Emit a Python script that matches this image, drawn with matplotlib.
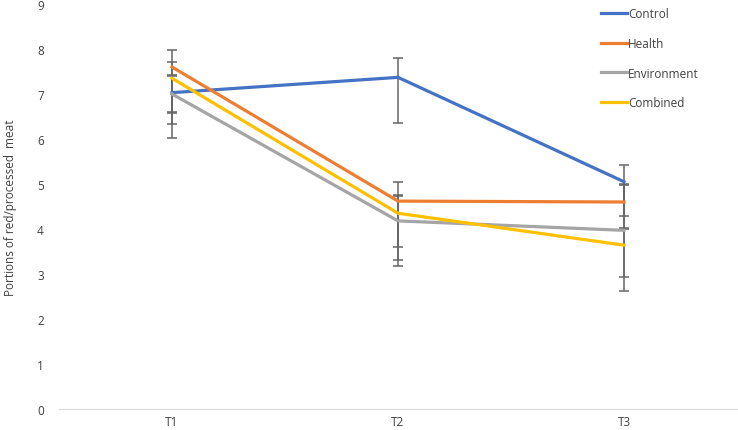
import numpy as np
import matplotlib.pyplot as plt

plt.rcParams['font.family'] = ['Open Sans', 'DejaVu Sans']

times = ['T1', 'T2', 'T3']
series = ['Control', 'Health', 'Environment', 'Combined']
colors = ['#4472C4', '#ED7D31', '#A5A5A5', '#FFC000']

control = [7.03, 7.37, 5.05]
health = [7.60, 4.62, 4.60]
environment = [7.00, 4.18, 3.97]
combined = [7.35, 4.35, 3.64]

# error bar ends (low, high)
control_lo = [6.02, 6.36, 4.29]
control_hi = [7.98, 7.80, 5.42]
health_lo = [6.33, 3.18, 4.02]
health_hi = [7.71, 5.04, 4.98]
environment_lo = [6.58, 3.60, 2.93]
environment_hi = [7.42, 4.73, 5.00]
combined_lo = [6.60, 3.31, 2.62]
combined_hi = [7.40, 4.75, 4.00]

values = [control, health, environment, combined]
lows = [control_lo, health_lo, environment_lo, combined_lo]
highs = [control_hi, health_hi, environment_hi, combined_hi]

fig = plt.figure(figsize=(7.38, 4.31), dpi=100)
ax = fig.add_axes([59 / 738, 1 - 410 / 431, 678 / 738, 405 / 431])

x = np.arange(len(times))
for name, col, v, lo, hi in zip(series, colors, values, lows, highs):
    v = np.array(v)
    ax.plot(x, v, color=col, lw=2.3, label=name, zorder=3)
    yerr = [v - np.array(lo), np.array(hi) - v]
    ax.errorbar(x, v, yerr=yerr, fmt='none', ecolor='#666666', elinewidth=1.1,
                capsize=3.5, capthick=1.1, zorder=2)

ax.set_xlim(-0.5, 2.5)
ax.set_ylim(0, 9)
ax.set_yticks(range(0, 10))
ax.set_xticks(x)
ax.set_xticklabels(times)
ax.tick_params(length=0, labelsize=8.5, labelcolor='#404040')
ax.tick_params(axis='y', pad=11)
ax.tick_params(axis='x', pad=4)
for s in ['top', 'right', 'left']:
    ax.spines[s].set_visible(False)
ax.spines['bottom'].set_color('#D9D9D9')
ax.set_ylabel('Portions of red/processed  meat', fontsize=8.5, color='#404040')
ax.yaxis.set_label_coords(-0.062, 0.5)

leg = fig.legend(loc='upper left', bbox_to_anchor=(0.80, 1.005), frameon=False,
                 fontsize=8.5, handlelength=2.2, handletextpad=0.1,
                 labelspacing=1.4)
for t in leg.get_texts():
    t.set_color('#404040')

fig.savefig('out.png', dpi=100)
